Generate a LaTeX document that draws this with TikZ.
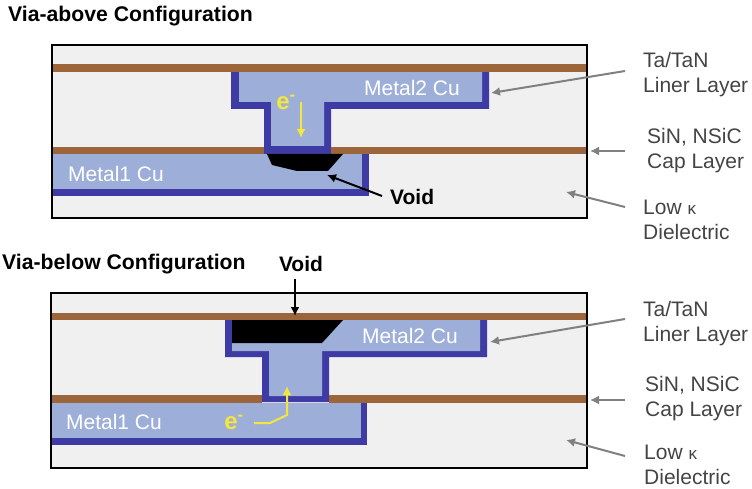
\documentclass[tikz,border=0pt]{standalone}
\usepackage{fontspec}
\setmainfont{Liberation Sans}
\usetikzlibrary{arrows.meta}
\definecolor{lowk}{HTML}{F0F0F0}
\definecolor{capbrown}{HTML}{9C663A}
\definecolor{liner}{HTML}{3E3CA4}
\definecolor{copper}{HTML}{9DAFD9}
\definecolor{eyellow}{HTML}{F4E63C}
\definecolor{labelgrey}{HTML}{444444}
\definecolor{pointer}{HTML}{808080}
\tikzset{
  title/.style={font=\bfseries\fontsize{21.2}{24}\selectfont, text=black, inner sep=0pt, anchor=west},
  metal/.style={font=\fontsize{21}{24}\selectfont, text=white, inner sep=0pt},
  side/.style={font=\fontsize{21}{25}\selectfont, text=labelgrey, align=left, anchor=west, inner ysep=0pt, inner xsep=18pt},
  voidtext/.style={font=\bfseries\fontsize{21}{24}\selectfont, text=black, inner ysep=0pt, inner xsep=8pt},
  electron/.style={font=\bfseries\fontsize{24}{24}\selectfont, text=eyellow, inner sep=0pt},
  greyarrow/.style={draw=pointer, line width=2pt, -{Latex[length=9pt,width=9pt]}},
  blackarrow/.style={draw=black, line width=2pt, -{Latex[length=9pt,width=9pt]}},
  yellowarrow/.style={draw=eyellow, line width=2pt, -{Latex[length=9pt,width=9pt]}}
}
\begin{document}
\begin{tikzpicture}[x=1pt,y=-1pt]
  \useasboundingbox (0,0) rectangle (752,489);

  % via-above
  \fill[lowk] (52,45) rectangle (587,218);
  \fill[liner] (231,72) -- (489,72) -- (489,109) -- (331,109) -- (331,154) -- (264,154) -- (264,109) -- (231,109) -- cycle;
  \fill[copper] (239,72) -- (482,72) -- (482,102) -- (324,102) -- (324,146) -- (271,146) -- (271,102) -- (239,102) -- cycle;
  \fill[liner] (53,154) -- (369,154) -- (369,196) -- (53,196) -- cycle;
  \fill[copper] (53,154) -- (362,154) -- (362,189) -- (53,189) -- cycle;
  \fill[capbrown] (53,64) rectangle (587,72);
  \fill[capbrown] (53,147) rectangle (264,154);
  \fill[capbrown] (331,147) rectangle (587,154);
  \fill[liner] (264,146) rectangle (331,154);
  \fill[black] (267,154) -- (343,154) -- (328,171) -- (297,171) -- (272,165) -- cycle;
  \draw[black, line width=1.5pt] (52,45) rectangle (587,218);

  % via-below
  \fill[lowk] (51,293) rectangle (587,468);
  \fill[liner] (225,320) -- (487,320) -- (487,357) -- (329,357) -- (329,402) -- (262,402) -- (262,357) -- (225,357) -- cycle;
  \fill[copper] (232,320) -- (480,320) -- (480,351) -- (322,351) -- (322,396) -- (269,396) -- (269,351) -- (232,351) -- cycle;
  \fill[liner] (52,403) -- (367,403) -- (367,445) -- (52,445) -- cycle;
  \fill[copper] (52,403) -- (361,403) -- (361,438) -- (52,438) -- cycle;
  \fill[capbrown] (52,313) rectangle (587,320);
  \fill[capbrown] (52,395) rectangle (262,403);
  \fill[capbrown] (329,395) rectangle (587,403);
  \fill[black] (232,320) -- (343,320) -- (322,343) -- (232,343) -- cycle;
  \draw[black, line width=1.5pt] (51,293) rectangle (587,468);

  % pointer ends
  \coordinate (linertipa) at (491,93);
  \coordinate (captipa) at (590,151);
  \coordinate (lowktipa) at (566,192);
  \coordinate (voidtipa) at (327,175);
  \coordinate (etipa) at (301,138);
  \coordinate (estarta) at (301,102);
  \coordinate (linertipb) at (490,342);
  \coordinate (captipb) at (590,400);
  \coordinate (lowktipb) at (566,440);
  \coordinate (voidtipb) at (295,316);
  \coordinate (etipb) at (287,386);
  \coordinate (estartb) at (254,423);

  \node[title] (titlea) at (8,16) {Via-above Configuration};
  \node[title] (titleb) at (2,264) {Via-below Configuration};

  \node[metal] (metalaa) at (116,174) {Metal1 Cu};
  \node[metal] (metalab) at (412,88) {Metal2 Cu};
  \node[metal] (metalba) at (114,422) {Metal1 Cu};
  \node[metal] (metalbb) at (410,336) {Metal2 Cu};

  \node[electron] (ea) at (286,102) {e\textsuperscript{-}};
  \node[electron] (eb) at (234,422) {e\textsuperscript{-}};

  \node[voidtext, anchor=west] (voida) at (382,197) {Void};
  \node[voidtext] (voidb) at (301,264) {Void};

  \node[side] (linera) at (625,75) {Ta/TaN\\Liner Layer};
  \node[side, xshift=4pt] (capa) at (625,151) {SiN, NSiC\\Cap Layer};
  \node[side] (lowka) at (625,220) {Low {\fontsize{17}{17}\selectfont κ}\\Dielectric};
  \node[side] (linerb) at (625,324) {Ta/TaN\\Liner Layer};
  \node[side, xshift=2pt] (capb) at (625,399) {SiN, NSiC\\Cap Layer};
  \node[side, xshift=1pt] (lowkb) at (625,465) {Low {\fontsize{17}{17}\selectfont κ}\\Dielectric};

  % grey pointers start left of the side labels
  \draw[greyarrow] ([yshift=4pt]linera.west) -- (linertipa);
  \draw[greyarrow] ([xshift=-4pt]capa.west) -- (captipa);
  \draw[greyarrow] ([yshift=13pt]lowka.west) -- (lowktipa);
  \draw[greyarrow] ([yshift=5pt]linerb.west) -- (linertipb);
  \draw[greyarrow] ([xshift=-2pt,yshift=-1pt]capb.west) -- (captipb);
  \draw[greyarrow] ([xshift=-1pt,yshift=9pt]lowkb.west) -- (lowktipb);

  \draw[blackarrow] ([yshift=1pt]voida.west) -- (voidtipa);
  \draw[blackarrow] ([xshift=-6pt,yshift=-7pt]voidb.south) -- (voidtipb);

  \draw[yellowarrow] (estarta) -- (etipa);
  \draw[yellowarrow] (estartb) -- ++(16,0) -- ++(17,-8) -- (etipb);
\end{tikzpicture}
\end{document}
